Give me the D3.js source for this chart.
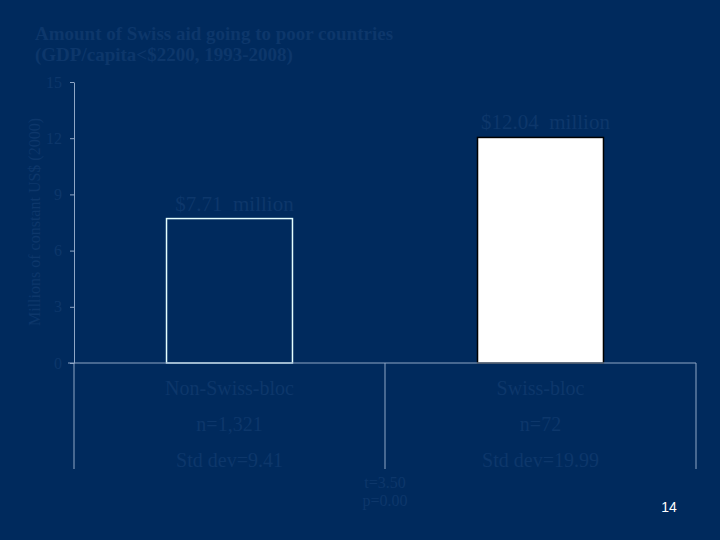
<!DOCTYPE html>
<html>
<head>
<meta charset="utf-8">
<script src="https://cdn.jsdelivr.net/npm/d3@7"></script>
<style>
  html, body { margin: 0; padding: 0; background: #002a5d; }
  svg { display: block; }
</style>
</head>
<body>
<div id="container"></div>
<script>
var categories = ["Non-Swiss-bloc", "Swiss-bloc"];
var values = [7.71, 12.04];
var valueLabels = ["$7.71  million", "$12.04  million"];
var nLabels = ["n=1,321", "n=72"];
var sdLabels = ["Std dev=9.41", "Std dev=19.99"];
var yTicks = [0, 3, 6, 9, 12, 15];
var testLabels = ["t=3.50", "p=0.00"];

var width = 720, height = 540;
var bg = "#002a5d";
var faint = "#0d376b";
var axisColor = "#8ea6c6";
var serif = "Liberation Serif, Times New Roman, serif";

var svg = d3.select("#container").append("svg")
    .attr("width", width).attr("height", height);

svg.append("rect").attr("width", width).attr("height", height).attr("fill", bg);

var y = d3.scaleLinear().domain([0, 15]).range([363, 82]);
var x = d3.scaleBand().domain(categories).range([74, 696]);
var barW = x.bandwidth() * 0.405;

// title
var title = svg.append("text").attr("font-family", serif)
    .attr("font-size", 19).attr("font-weight", "bold").attr("fill", faint);
title.append("tspan").attr("x", 35).attr("y", 40).text("Amount of Swiss aid going to poor countries");
title.append("tspan").attr("x", 35).attr("y", 61).text("(GDP/capita<$2200, 1993-2008)");

// y axis
var yAxis = svg.append("g").attr("transform", "translate(74,0)")
    .call(d3.axisLeft(y).tickValues(yTicks).tickSize(4).tickPadding(8).tickSizeOuter(0));
yAxis.select(".domain").attr("stroke", axisColor);
yAxis.selectAll(".tick line").attr("stroke", axisColor);
yAxis.selectAll(".tick text").attr("fill", faint)
    .attr("font-family", serif).attr("font-size", 16);

svg.append("text")
    .attr("transform", "translate(40,222) rotate(-90)")
    .attr("text-anchor", "middle")
    .attr("font-family", serif)
    .attr("font-size", 16).attr("fill", faint)
    .text("Millions of constant US$ (2000)");

// bars
svg.selectAll("rect.bar").data(values).enter().append("rect")
    .attr("class", "bar")
    .attr("x", function (d, i) { return x(categories[i]) + x.bandwidth() / 2 - barW / 2; })
    .attr("y", function (d) { return y(d); })
    .attr("width", barW)
    .attr("height", function (d) { return y(0) - y(d); })
    .attr("fill", function (d, i) { return i === 0 ? bg : "#ffffff"; })
    .attr("stroke", function (d, i) { return i === 0 ? "#e4ffff" : "#000000"; })
    .attr("stroke-width", 1.5);

svg.selectAll("text.vlabel").data(values).enter().append("text")
    .attr("class", "vlabel")
    .attr("x", function (d, i) { return x(categories[i]) + x.bandwidth() / 2 + 5; })
    .attr("y", function (d) { return y(d) - 8; })
    .attr("text-anchor", "middle")
    .attr("font-family", serif)
    .attr("font-size", 21).attr("fill", faint)
    .attr("xml:space", "preserve")
    .style("white-space", "pre")
    .text(function (d, i) { return valueLabels[i]; });

// x axis line and dividers
svg.append("line").attr("x1", 68).attr("x2", 696).attr("y1", y(0)).attr("y2", y(0))
    .attr("stroke", axisColor);
var edges = categories.map(function (c) { return x(c); }).concat([x.range()[1]]);
svg.selectAll("line.div").data(edges).enter().append("line")
    .attr("class", "div")
    .attr("x1", function (d) { return d; }).attr("x2", function (d) { return d; })
    .attr("y1", y(0)).attr("y2", 469)
    .attr("stroke", axisColor);

var rows = [categories, nLabels, sdLabels];
var rowY = [395, 431, 467];
rows.forEach(function (row, r) {
    svg.selectAll("text.row" + r).data(row).enter().append("text")
        .attr("class", "row" + r)
        .attr("x", function (d, i) { return x(categories[i]) + x.bandwidth() / 2; })
        .attr("y", rowY[r])
        .attr("text-anchor", "middle")
        .attr("font-family", serif)
        .attr("font-size", 20).attr("fill", faint)
        .text(function (d) { return d; });
});

svg.selectAll("text.test").data(testLabels).enter().append("text")
    .attr("class", "test")
    .attr("x", x.range()[0] + (x.range()[1] - x.range()[0]) / 2)
    .attr("y", function (d, i) { return 488 + i * 18; })
    .attr("text-anchor", "middle")
    .attr("font-family", serif)
    .attr("font-size", 16).attr("fill", faint)
    .text(function (d) { return d; });

svg.append("text").attr("x", 669).attr("y", 512).attr("text-anchor", "middle")
    .attr("font-family", "Liberation Sans, Arial, sans-serif")
    .attr("font-size", 14).attr("fill", "#ffffff").text("14");
</script>
</body>
</html>
